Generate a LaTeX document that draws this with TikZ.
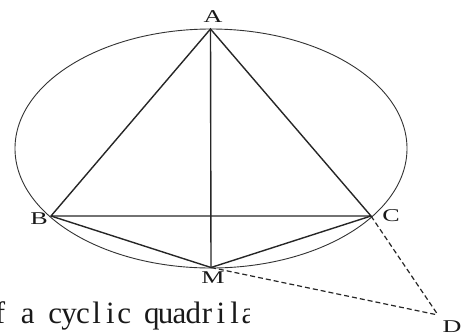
\documentclass[tikz,border=0pt]{standalone}
\usepackage{fontspec}
\setmainfont{Liberation Serif}
\makeatletter
\newcommand\fixedtext[1]{\@tfor\ft@c:=#1\do{\makebox[13.8pt]{\ft@c}}}
\makeatother
\begin{document}
\begin{tikzpicture}[x=1pt,y=-1pt,
  edge/.style={draw=black!85,line width=1.4pt},
  rim/.style={draw=black!80,line width=0.9pt},
  dashedge/.style={draw=black!85,line width=1.2pt,dash pattern=on 5pt off 3pt},
  ptlabel/.style={inner sep=0pt,font=\fontsize{18}{18}\selectfont,xscale=1.45,text=black!90}]
\clip (0,0) rectangle (463,333);
\coordinate (A) at (210.5,29);
\coordinate (B) at (51,216);
\coordinate (C) at (371,216);
\coordinate (M) at (211,267.5);
\coordinate (D) at (438,315);
\coordinate (O) at (211,148.5);
\draw[rim] (O) ellipse [x radius=196, y radius=119.5];
\draw[edge] (A) -- (B) -- (C) -- cycle;
\draw[edge] (A) -- (M);
\draw[edge] (B) -- (M) -- (C);
\draw[dashedge] (C) -- (D);
\draw[dashedge] (M) -- (D);
\node[ptlabel] (lA) at (213,17) {A};
\node[ptlabel] (lB) at (39,219) {B};
\node[ptlabel] (lC) at (391,216) {C};
\node[ptlabel] (lM) at (213,277.5) {M};
\node[ptlabel] (lD) at (452,326.5) {D};
\begin{scope}
\clip (0,290) rectangle (249,333);
\node[anchor=base west,inner sep=0pt,text=black!90,font=\fontsize{31}{31}\selectfont] (cap) at (-7,323) {\fixedtext{f~a~cyclic~quadrila}};
\end{scope}
\end{tikzpicture}
\end{document}
